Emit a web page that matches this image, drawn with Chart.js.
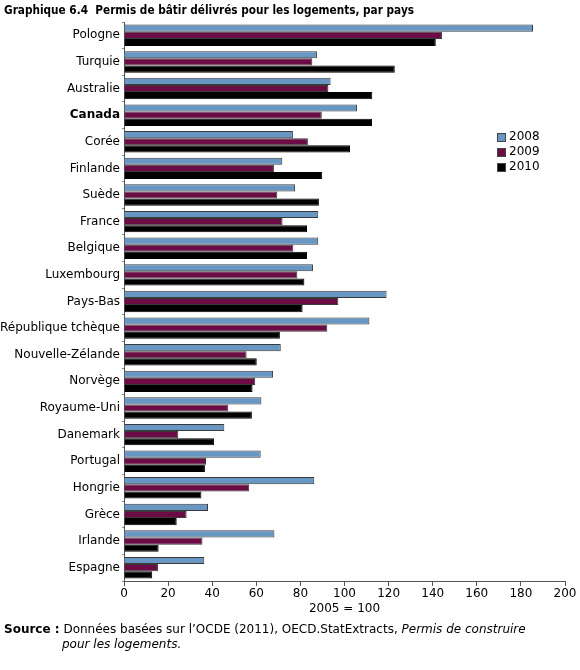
<!DOCTYPE html>
<html>
<head>
<meta charset="utf-8">
<script src="https://cdn.jsdelivr.net/npm/chart.js@4/dist/chart.umd.min.js"></script>
<style>
  html, body { margin: 0; padding: 0; background: #fff; }
  #wrap { position: relative; width: 580px; height: 670px; font-family: "DejaVu Sans", Verdana, sans-serif; color: #000; }
  #title { position: absolute; left: 4px; top: 3px; font-size: 12px; font-weight: bold; white-space: nowrap; transform-origin: 0 0; }
  #source { position: absolute; left: 4px; top: 622px; font-size: 12px; line-height: 15px; white-space: nowrap; }
  #source .l2 { padding-left: 58px; }
  canvas { position: absolute; left: 0; top: 0; }
</style>
</head>
<body>
<div id="wrap">
  <canvas id="c" width="580" height="670"></canvas>
  <div id="title">Graphique 6.4&nbsp; Permis de bâtir délivrés pour les logements, par pays</div>
  <div id="source"><b>Source :</b> Données basées sur l’OCDE (2011), OECD.StatExtracts, <i>Permis de construire</i><br><span class="l2"><i>pour les logements.</i></span></div>
</div>
<script>
const countries = ["Pologne","Turquie","Australie","Canada","Corée","Finlande","Suède","France","Belgique","Luxembourg","Pays-Bas","République tchèque","Nouvelle-Zélande","Norvège","Royaume-Uni","Danemark","Portugal","Hongrie","Grèce","Irlande","Espagne"];
const years = ["2008","2009","2010"];
const values2008 = [185.5, 87.5, 93.7, 105.7, 76.6, 71.8, 77.6, 88.1, 88.1, 85.7, 119.1, 111.3, 71.1, 67.6, 62.3, 45.5, 62.0, 86.3, 38.1, 68.2, 36.4];
const values2009 = [144.2, 85.4, 92.7, 89.7, 83.4, 68.0, 69.5, 71.9, 76.8, 78.6, 97.2, 92.2, 55.6, 59.5, 47.3, 24.6, 37.2, 56.8, 28.4, 35.6, 15.4];
const values2010 = [141.4, 122.8, 112.6, 112.5, 102.5, 89.9, 88.4, 83.0, 83.0, 81.8, 81.0, 70.7, 60.2, 58.3, 58.0, 40.8, 36.7, 35.1, 23.9, 15.7, 12.8];
const xTicks = [0, 20, 40, 60, 80, 100, 120, 140, 160, 180, 200];
const xTitle = "2005 = 100";

// fit title to the reference width
(function () {
  const t = document.getElementById('title');
  const w = t.getBoundingClientRect().width;
  if (w > 0) t.style.transform = 'scaleX(' + (410 / w) + ')';
})();

const FONT = '"DejaVu Sans", Verdana, sans-serif';
const colors = ["#6897C4", "#6B0D44", "#000000"];
const borders = ["#3a3a3a", "#3a3a3a", "#000000"];

const legendPlugin = {
  id: 'customLegend',
  afterDraw(chart) {
    const ctx = chart.ctx;
    ctx.save();
    ctx.font = '12px ' + FONT;
    ctx.textBaseline = 'middle';
    chart.data.datasets.forEach((ds, i) => {
      const y = 137 + i * 15;
      ctx.fillStyle = ds.backgroundColor;
      ctx.fillRect(497, y - 4, 9, 9);
      ctx.strokeStyle = '#444';
      ctx.lineWidth = 1;
      ctx.strokeRect(497.5, y - 3.5, 8, 8);
      ctx.fillStyle = '#000';
      ctx.fillText(ds.label, 509, y);
    });
    ctx.restore();
  }
};

new Chart(document.getElementById('c'), {
  type: 'bar',
  data: {
    labels: countries,
    datasets: [
      { label: years[0], data: values2008, backgroundColor: colors[0], borderColor: borders[0], borderWidth: 1 },
      { label: years[1], data: values2009, backgroundColor: colors[1], borderColor: borders[1], borderWidth: 1 },
      { label: years[2], data: values2010, backgroundColor: colors[2], borderColor: borders[2], borderWidth: 1 }
    ]
  },
  options: {
    indexAxis: 'y',
    responsive: false,
    animation: false,
    layout: { padding: { left: 0, right: 15, top: 22, bottom: 54 } },
    datasets: { bar: { categoryPercentage: 0.805, barPercentage: 1.0 } },
    plugins: { legend: { display: false }, tooltip: { enabled: false } },
    scales: {
      x: {
        min: 0, max: 200,
        afterBuildTicks(scale) { scale.ticks = xTicks.map(v => ({ value: v })); },
        afterFit(scale) { scale.height = 35; },
        grid: { display: true, drawOnChartArea: false, drawTicks: true, tickLength: 5, color: '#555' },
        border: { display: true, color: '#555', width: 1 },
        ticks: { color: '#000', font: { family: FONT, size: 12 }, padding: 1, maxRotation: 0 },
        title: { display: true, text: xTitle, color: '#000', font: { family: FONT, size: 12 }, padding: { top: 0, bottom: 0 } }
      },
      y: {
        afterFit(scale) { scale.width = 124; },
        grid: { display: true, drawOnChartArea: false, drawTicks: true, tickLength: 2, offset: true, color: '#888' },
        border: { display: true, color: '#555', width: 1 },
        ticks: {
          color: '#000', padding: 2, autoSkip: false,
          font: (ctx) => ({ family: FONT, size: 12, weight: countries[ctx.index] === 'Canada' ? 'bold' : 'normal' })
        }
      }
    }
  },
  plugins: [legendPlugin]
});
</script>
</body>
</html>
